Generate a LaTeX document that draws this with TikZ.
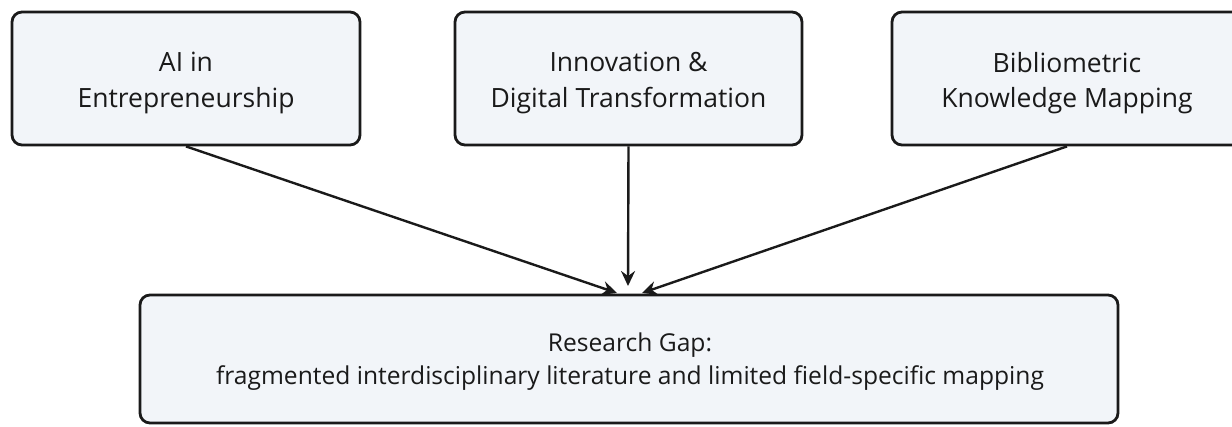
\documentclass[tikz,border=0pt]{standalone}
\usepackage{fontspec}
\setmainfont{Open Sans}
\usetikzlibrary{arrows.meta}
\definecolor{boxfill}{HTML}{F2F5F9}
\definecolor{ink}{HTML}{1A1A1A}
\tikzset{
  frame/.style={draw=ink, line width=2.8pt, fill=boxfill, rounded corners=10pt, inner sep=0pt},
  toptext/.style={align=center, inner sep=0pt, text=ink, font=\fontsize{26.5}{35.5}\selectfont},
  gaptext/.style={align=center, inner sep=0pt, text=ink, font=\fontsize{24.6}{33}\selectfont},
  conn/.style={draw=ink, line width=2.4pt, -{Stealth[length=15pt,width=14pt,inset=5pt]}}
}
\begin{document}
\begin{tikzpicture}[x=1pt,y=-1pt]
\useasboundingbox (0,0) rectangle (1232,426);
\clip (0,0) rectangle (1232,426);
% boxes
\node[frame, minimum width=348pt, minimum height=133pt] (ai) at (186,78.5) {};
\node[frame, minimum width=347pt, minimum height=133pt] (inn) at (628.5,78.5) {};
\node[frame, minimum width=350pt, minimum height=133pt] (bib) at (1067,78.5) {};
\node[frame, minimum width=978pt, minimum height=128pt] (gap) at (629,359) {};
% texts
\node[toptext] (aitx) at (186,83) {AI in\\Entrepreneurship};
\node[toptext] (inntx) at (628.5,83) {Innovation \&\\Digital Transformation};
\node[toptext] (bibtx) at (1067,83) {Bibliometric\\Knowledge Mapping};
\node[gaptext] (gaptx) at (630,362) {Research Gap:\\fragmented interdisciplinary literature and limited field-specific mapping};
% connectors
\coordinate (t1) at (617,293);
\coordinate (t2) at (628,286);
\coordinate (t3) at (642,293);
\draw[conn] (ai.south) -- (t1);
\draw[conn] (inn.south) -- (t2);
\draw[conn] (bib.south) -- (t3);
\end{tikzpicture}
\end{document}
